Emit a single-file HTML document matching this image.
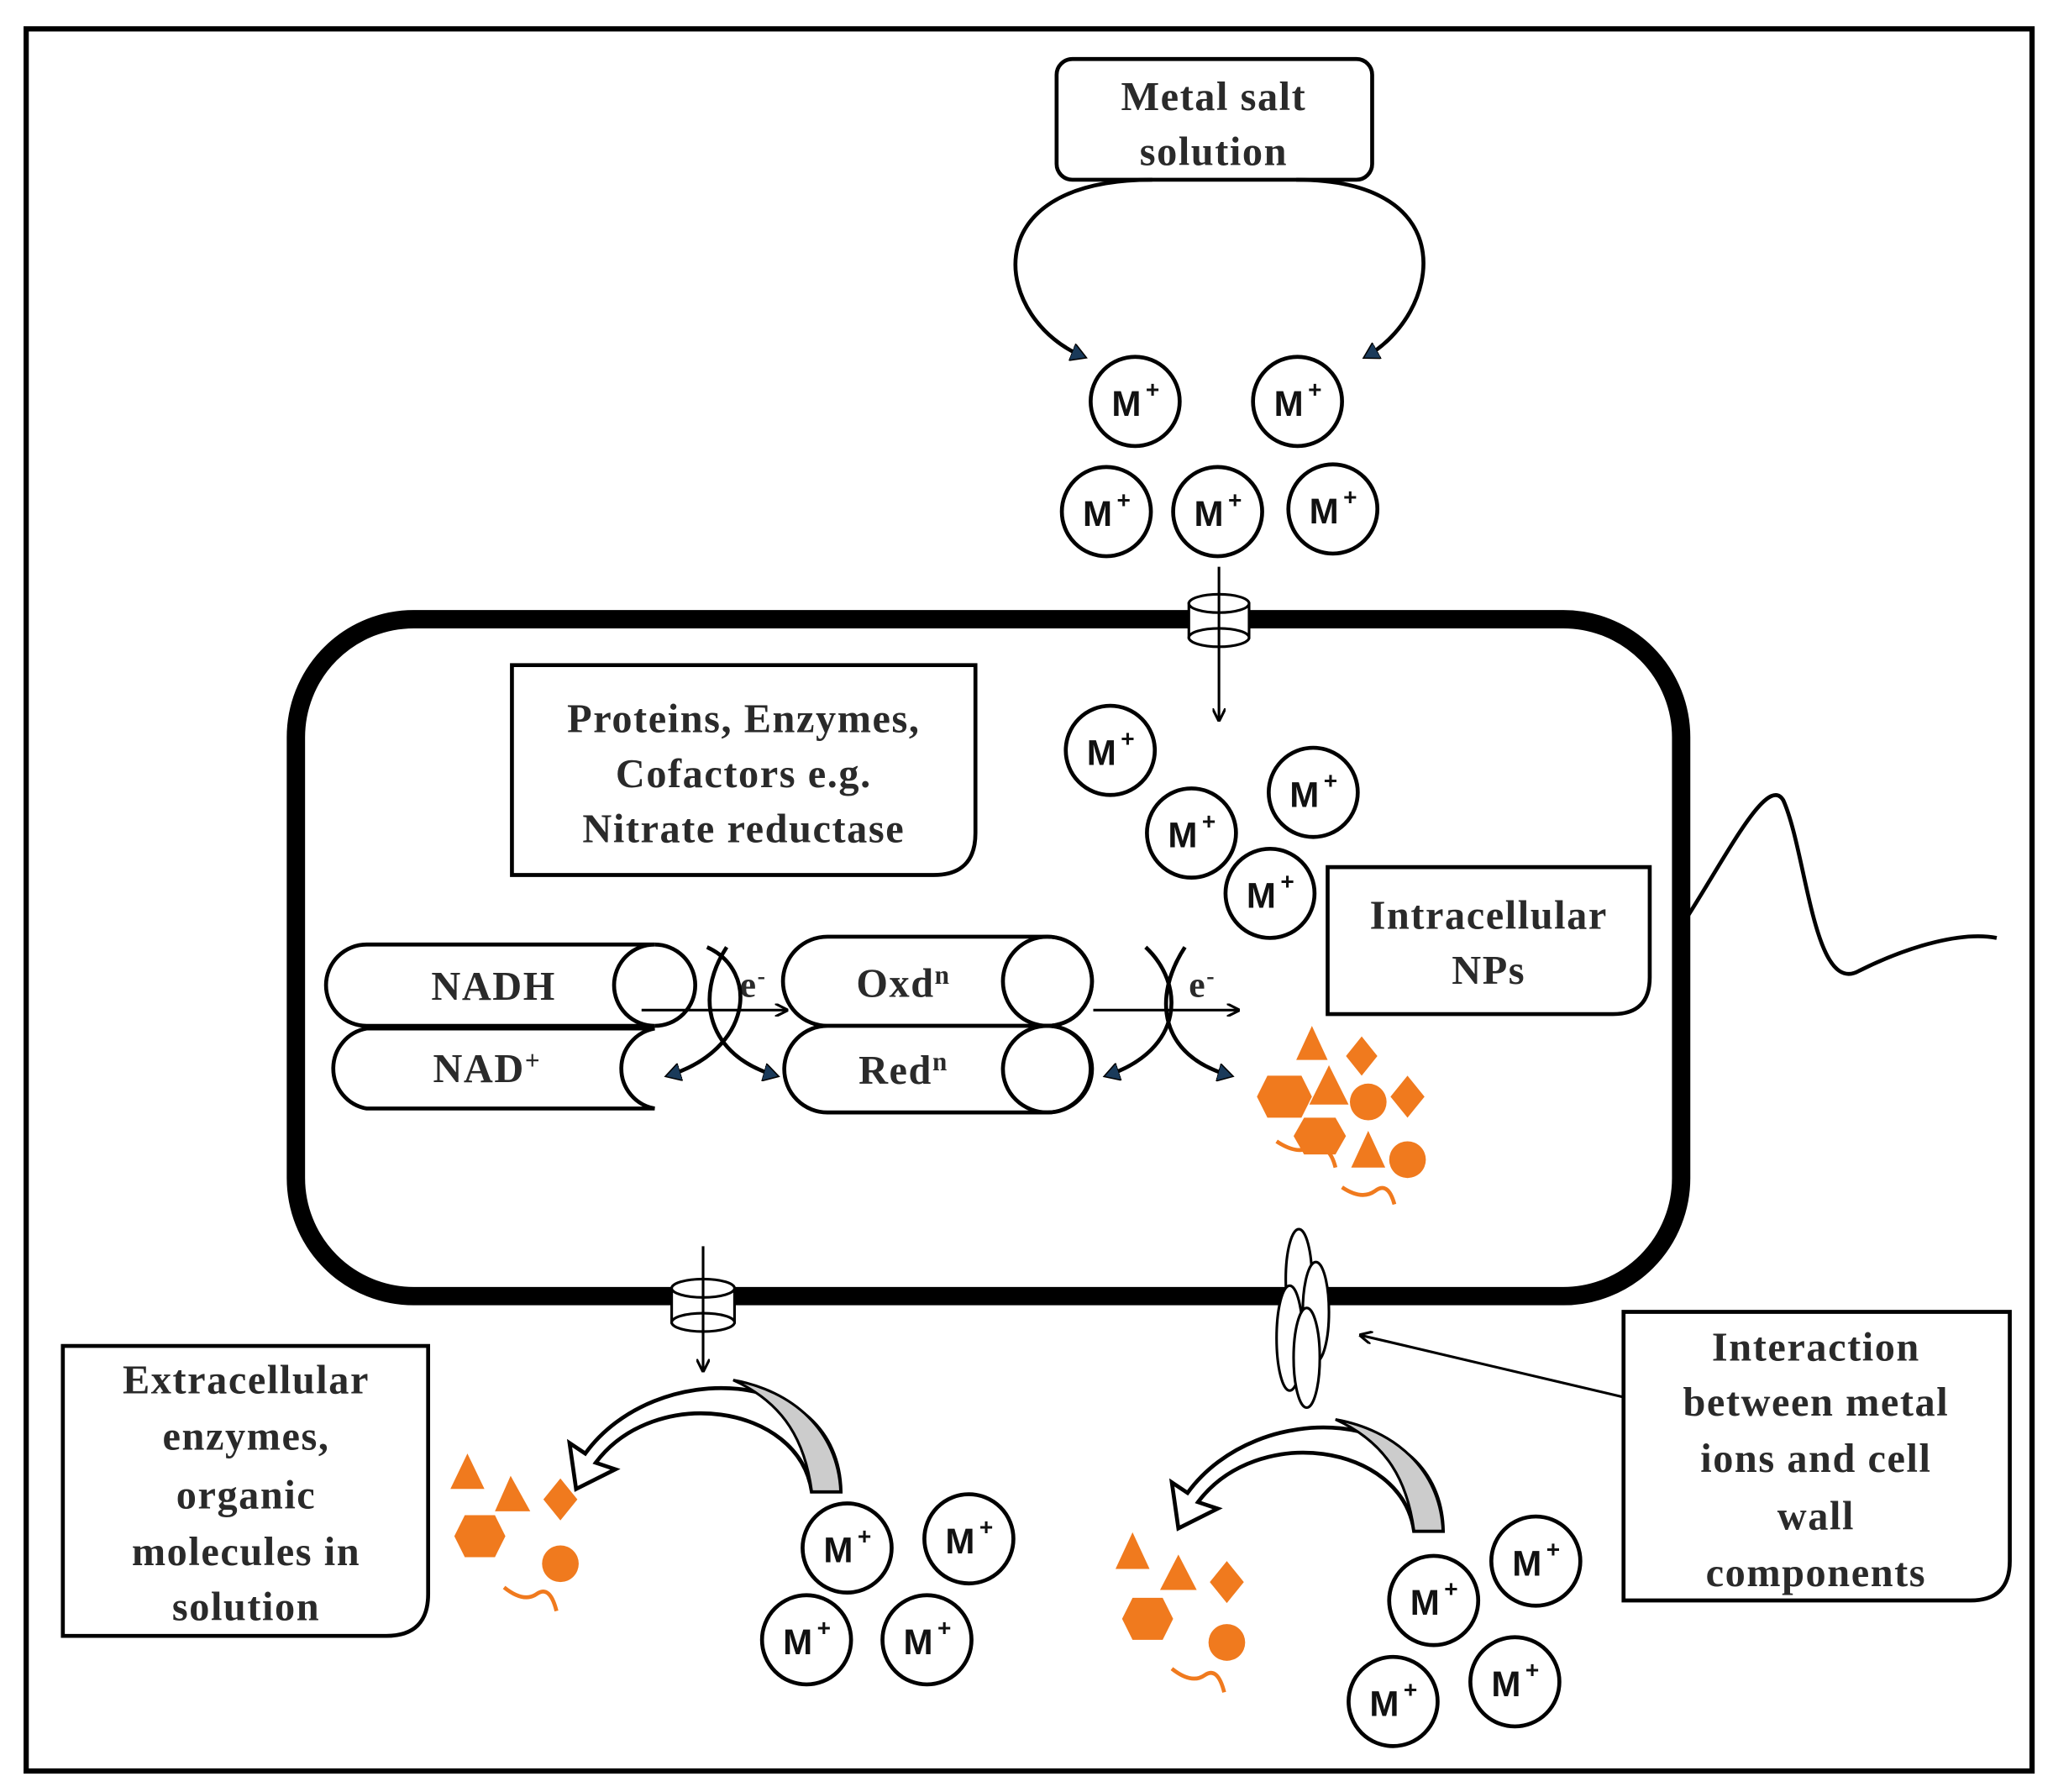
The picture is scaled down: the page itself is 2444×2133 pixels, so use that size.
<!DOCTYPE html>
<html><head><meta charset="utf-8"><style>
html,body{margin:0;padding:0;background:#fff;}
svg{display:block;}
.t{font-family:"Liberation Serif",serif;font-size:31px;font-weight:bold;fill:#2a2a2a;letter-spacing:1px;}
.m{font-family:"Liberation Sans",sans-serif;font-size:27px;font-weight:bold;fill:#111;}
</style></head><body>
<svg width="2444" height="2133" viewBox="0 0 1568 1366" preserveAspectRatio="none" xmlns="http://www.w3.org/2000/svg">
<defs>
<marker id="ah" markerWidth="10" markerHeight="10" refX="8" refY="5" orient="auto" markerUnits="userSpaceOnUse"><path d="M0,0 L10,5 L0,10" fill="none" stroke="#000" stroke-width="2"/></marker>
<marker id="tri" markerWidth="14" markerHeight="14" refX="10" refY="7" orient="auto" markerUnits="userSpaceOnUse"><path d="M0,0 L12,7 L0,14 Z" fill="#1a3a5a" stroke="#000" stroke-width="1"/></marker>
<g id="M"><circle r="34" fill="#fff" stroke="#000" stroke-width="3"/><text class="m" x="-18" y="11">M</text><text class="m" x="8" y="-3" style="font-size:18px">+</text></g>
</defs>
<rect x="20" y="22" width="1532" height="1328" fill="#fff" stroke="#000" stroke-width="4"/>

<!-- Metal salt -->
<rect x="807" y="45" width="241" height="92" rx="12" fill="#fff" stroke="#000" stroke-width="3"/>
<text class="t" x="927" y="84" text-anchor="middle">Metal salt</text>
<text class="t" x="927" y="126" text-anchor="middle">solution</text>
<path d="M880 137 C740 137,760 245,828 272" fill="none" stroke="#000" stroke-width="3" marker-end="url(#tri)"/>
<path d="M990 137 C1120 137,1100 240,1043 272" fill="none" stroke="#000" stroke-width="3" marker-end="url(#tri)"/>

<use href="#M" x="867" y="306"/><use href="#M" x="991" y="306"/>
<use href="#M" x="845" y="390"/><use href="#M" x="930" y="390"/><use href="#M" x="1018" y="388"/>

<!-- cell -->
<rect x="226" y="472" width="1058" height="516" rx="90" fill="none" stroke="#000" stroke-width="14"/>
<path d="M1288 700 C1320 650,1350 590,1362 610 C1380 650,1385 760,1420 740 C1460 720,1500 710,1525 715" fill="none" stroke="#000" stroke-width="3"/>

<!-- top channel -->
<line x1="931" y1="432" x2="931" y2="548" stroke="#000" stroke-width="2" marker-end="url(#ah)"/>
<rect x="908" y="460" width="46" height="26" fill="#fff" stroke="#000" stroke-width="2"/>
<ellipse cx="931" cy="460" rx="23" ry="7" fill="#fff" stroke="#000" stroke-width="2"/>
<ellipse cx="931" cy="486" rx="23" ry="7" fill="#fff" stroke="#000" stroke-width="2"/>
<line x1="931" y1="453" x2="931" y2="493" stroke="#000" stroke-width="2"/>

<use href="#M" x="848" y="572"/><use href="#M" x="1003" y="604"/><use href="#M" x="910" y="635"/><use href="#M" x="970" y="681"/>

<!-- Proteins box -->
<path d="M391 507 H745 V635 Q745 667 713 667 H391 Z" fill="#fff" stroke="#000" stroke-width="3"/>
<text class="t" x="568" y="558" text-anchor="middle">Proteins, Enzymes,</text>
<text class="t" x="568" y="600" text-anchor="middle">Cofactors e.g.</text>
<text class="t" x="568" y="642" text-anchor="middle">Nitrate reductase</text>

<!-- Intracellular NPs -->
<path d="M1014 661 H1260 V745 Q1260 773 1232 773 H1014 Z" fill="#fff" stroke="#000" stroke-width="3"/>
<text class="t" x="1137" y="708" text-anchor="middle">Intracellular</text>
<text class="t" x="1137" y="750" text-anchor="middle">NPs</text>

<!-- NADH cylinders -->
<path d="M280 720 H500 A31 31 0 0 0 500 782 H280 A31 31 0 0 1 280 720 Z" fill="#fff" stroke="#000" stroke-width="3"/>
<path d="M280 784 H500 A31 31 0 0 0 500 845 H280 A31 31 0 0 1 280 784 Z" fill="#fff" stroke="#000" stroke-width="3"/>
<path d="M500 720 A31 31 0 0 1 500 782" fill="none" stroke="#000" stroke-width="3"/>
<text class="t" x="377" y="762" text-anchor="middle">NADH</text>
<text class="t" x="372" y="825" text-anchor="middle">NAD<tspan dy="-10" style="font-size:20px">+</tspan></text>

<!-- Oxd/Red cylinders -->
<path d="M632 714 H800 A34 34 0 0 1 800 782 H632 A34 34 0 0 1 632 714 Z" fill="#fff" stroke="#000" stroke-width="3"/>
<path d="M632 782 H800 A33 33 0 0 1 800 848 H632 A33 33 0 0 1 632 782 Z" fill="#fff" stroke="#000" stroke-width="3"/>
<ellipse cx="800" cy="748" rx="34" ry="34" fill="none" stroke="#000" stroke-width="3"/>
<ellipse cx="800" cy="815" rx="34" ry="33" fill="none" stroke="#000" stroke-width="3"/>
<text class="t" x="690" y="760" text-anchor="middle">Oxd<tspan dy="-10" style="font-size:20px">n</tspan></text>
<text class="t" x="690" y="826" text-anchor="middle">Red<tspan dy="-10" style="font-size:20px">n</tspan></text>

<!-- electron arrows -->
<line x1="490" y1="770" x2="600" y2="770" stroke="#000" stroke-width="2" marker-end="url(#ah)"/>
<text class="t" x="565" y="760" style="font-size:28px">e<tspan dy="-10" style="font-size:18px">-</tspan></text>
<path d="M540 722 C580 740,575 800,510 820" fill="none" stroke="#000" stroke-width="3" marker-end="url(#tri)"/>
<path d="M555 722 C530 760,540 805,593 820" fill="none" stroke="#000" stroke-width="3" marker-end="url(#tri)"/>
<line x1="835" y1="770" x2="945" y2="770" stroke="#000" stroke-width="2" marker-end="url(#ah)"/>
<text class="t" x="908" y="760" style="font-size:28px">e<tspan dy="-10" style="font-size:18px">-</tspan></text>
<path d="M875 722 C905 750,905 800,845 820" fill="none" stroke="#000" stroke-width="3" marker-end="url(#tri)"/>
<path d="M905 722 C880 760,885 805,940 820" fill="none" stroke="#000" stroke-width="3" marker-end="url(#tri)"/>

<!-- orange intracellular -->
<g fill="#f07a1e">
<polygon points="1002,782 1014,808 990,808"/>
<polygon points="1040,790 1052,805 1040,820 1028,805"/>
<polygon points="968,820 994,820 1002,836 994,852 968,852 960,836"/>
<polygon points="1015,812 1030,842 1000,842"/>
<circle cx="1045" cy="840" r="14"/>
<polygon points="1075,820 1088,836 1075,852 1062,836"/>
<polygon points="996,852 1020,852 1028,866 1020,880 996,880 988,866"/>
<polygon points="1045,862 1058,890 1032,890"/>
<circle cx="1075" cy="884" r="14"/>
</g>
<path d="M975 870 Q990 880,1000 875 Q1015 870,1020 890" fill="none" stroke="#f07a1e" stroke-width="3"/>
<path d="M1025 905 Q1040 915,1050 908 Q1060 900,1065 918" fill="none" stroke="#f07a1e" stroke-width="3"/>

<!-- bottom channel -->
<rect x="513" y="982" width="48" height="26" fill="#fff" stroke="#000" stroke-width="2"/>
<ellipse cx="537" cy="982" rx="24" ry="7" fill="#fff" stroke="#000" stroke-width="2"/>
<ellipse cx="537" cy="1008" rx="24" ry="7" fill="#fff" stroke="#000" stroke-width="2"/>
<line x1="537" y1="950" x2="537" y2="1044" stroke="#000" stroke-width="2" marker-end="url(#ah)"/>

<!-- big curved arrows -->
<path d="M642 1137 L620 1137 C610 1070,500 1055,455 1115 L470 1120 L440 1135 L435 1100 L447 1108 C500 1035,640 1040,642 1137 Z" fill="#fff" stroke="#000" stroke-width="3"/>
<path d="M620 1137 L642 1137 C640 1090,605 1060,560 1052 C600 1070,615 1100,620 1137 Z" fill="#ccc" stroke="#000" stroke-width="2"/>
<path d="M1102 1167 L1080 1167 C1070 1100,960 1085,915 1145 L930 1150 L900 1165 L895 1130 L907 1138 C960 1065,1100 1070,1102 1167 Z" fill="#fff" stroke="#000" stroke-width="3"/>
<path d="M1080 1167 L1102 1167 C1100 1120,1065 1090,1020 1082 C1060 1100,1075 1130,1080 1167 Z" fill="#ccc" stroke="#000" stroke-width="2"/>

<!-- protein bundle -->
<g fill="#fff" stroke="#000" stroke-width="2">
<ellipse cx="992" cy="975" rx="10" ry="38"/>
<ellipse cx="1005" cy="1000" rx="10" ry="38"/>
<ellipse cx="985" cy="1020" rx="10" ry="40"/>
<ellipse cx="998" cy="1035" rx="10" ry="38"/>
</g>

<use href="#M" x="647" y="1180"/><use href="#M" x="740" y="1173"/><use href="#M" x="616" y="1250"/><use href="#M" x="708" y="1250"/>
<use href="#M" x="1173" y="1190"/><use href="#M" x="1095" y="1220"/><use href="#M" x="1157" y="1282"/><use href="#M" x="1064" y="1297"/>

<!-- Extracellular box -->
<path d="M48 1026 H327 V1215 Q327 1247 295 1247 H48 Z" fill="#fff" stroke="#000" stroke-width="3"/>
<text class="t" x="188" y="1062" text-anchor="middle">Extracellular</text>
<text class="t" x="188" y="1105" text-anchor="middle">enzymes,</text>
<text class="t" x="188" y="1150" text-anchor="middle">organic</text>
<text class="t" x="188" y="1193" text-anchor="middle">molecules in</text>
<text class="t" x="188" y="1235" text-anchor="middle">solution</text>

<!-- Interaction box -->
<path d="M1240 1000 H1535 V1190 Q1535 1220 1505 1220 H1240 Z" fill="#fff" stroke="#000" stroke-width="3"/>
<text class="t" x="1387" y="1037" text-anchor="middle">Interaction</text>
<text class="t" x="1387" y="1079" text-anchor="middle">between metal</text>
<text class="t" x="1387" y="1122" text-anchor="middle">ions and cell</text>
<text class="t" x="1387" y="1166" text-anchor="middle">wall</text>
<text class="t" x="1387" y="1209" text-anchor="middle">components</text>
<line x1="1240" y1="1065" x2="1040" y2="1018" stroke="#000" stroke-width="2" marker-end="url(#ah)"/>

<!-- orange bottom-left -->
<g fill="#f07a1e">
<polygon points="357,1108 370,1135 344,1135"/>
<polygon points="390,1125 405,1152 378,1152"/>
<polygon points="428,1127 441,1143 428,1159 415,1143"/>
<polygon points="355,1155 378,1155 386,1171 378,1187 355,1187 347,1171"/>
<circle cx="428" cy="1192" r="14"/>
</g>
<path d="M385 1210 Q400 1222,410 1215 Q420 1208,425 1228" fill="none" stroke="#f07a1e" stroke-width="3"/>
<!-- orange bottom-right -->
<g fill="#f07a1e">
<polygon points="865,1168 878,1196 852,1196"/>
<polygon points="900,1185 914,1212 886,1212"/>
<polygon points="937,1190 950,1206 937,1222 924,1206"/>
<polygon points="865,1218 888,1218 896,1234 888,1250 865,1250 857,1234"/>
<circle cx="937" cy="1252" r="14"/>
</g>
<path d="M895 1272 Q910 1284,920 1277 Q930 1270,935 1290" fill="none" stroke="#f07a1e" stroke-width="3"/>
</svg>
</body></html>
